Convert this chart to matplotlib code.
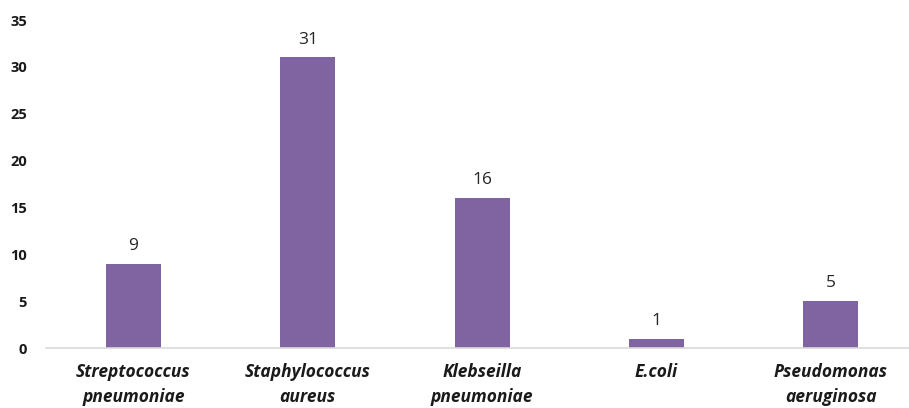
import matplotlib
matplotlib.use("Agg")
import matplotlib.pyplot as plt

categories = ["Streptococcus\npneumoniae", "Staphylococcus\naureus", "Klebseilla\npneumoniae", "E.coli", "Pseudomonas\naeruginosa"]
values = [9, 31, 16, 1, 5]
yticks = [0, 5, 10, 15, 20, 25, 30, 35]

plt.rcParams['font.family'] = ['Open Sans', 'DejaVu Sans']

fig = plt.figure(figsize=(9.09, 4.08), dpi=100)
ax = fig.add_axes([46.3/909, 60/408, 871.5/909, 328/408])
x = list(range(len(categories)))
bars = ax.bar(x, values, width=0.315, color="#8064A2")
ax.set_xlim(-0.5, len(categories) - 0.5)
ax.set_ylim(0, 35)
ax.set_yticks(yticks)
ax.set_yticklabels([str(t) for t in yticks], fontsize=10.5, fontweight='bold', color='#1a1a1a')
ax.set_xticks(x)
ax.set_xticklabels(categories, fontsize=12.5, fontweight='bold', fontstyle='italic', color='#1a1a1a', linespacing=1.45)
ax.tick_params(axis='both', length=0)
ax.tick_params(axis='y', pad=14)
ax.tick_params(axis='x', pad=11)
for s in ['top', 'right', 'left']:
    ax.spines[s].set_visible(False)
ax.spines['bottom'].set_color('#D9D9D9')
ax.spines['bottom'].set_linewidth(1.2)
for b, v in zip(bars, values):
    ax.annotate(str(v), (b.get_x() + b.get_width()/2, v), xytext=(0, 7), textcoords='offset points',
                ha='center', va='bottom', fontsize=12.5, color='#262626')
fig.savefig("out.png", dpi=100)
